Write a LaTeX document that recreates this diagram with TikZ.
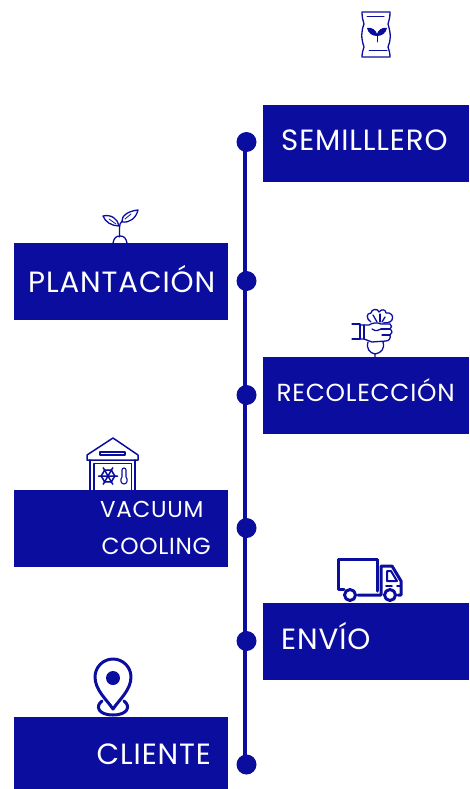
\documentclass[tikz,border=0pt]{standalone}
\usepackage{fontspec}
\setmainfont{Poppins}[LetterSpace=3]
\definecolor{navy}{HTML}{0A0D9E}
\tikzset{
  stepbox/.style={fill=navy, draw=none, inner sep=0pt, minimum height=77pt, anchor=north west},
  steptext/.style={text=white, inner sep=0pt, anchor=base west, font=\fontsize{#1}{#1}\selectfont},
  stepdot/.style={circle, fill=navy, draw=none, minimum size=20pt, inner sep=0pt},
  spine/.style={draw=navy, line width=4pt},
  icon/.style={draw=navy, line width=1.3pt, line join=round, line cap=round},
  iconthick/.style={draw=navy, line width=3pt, line join=round, line cap=round},
}
\begin{document}
\begin{tikzpicture}[x=1pt,y=-1pt]
    \useasboundingbox (0,0) rectangle (469,789);
    % boxes
    \node [stepbox, minimum width=206pt] (B1) at (263,105) {};
    \node [stepbox, minimum width=214pt] (B2) at (14,243) {};
    \node [stepbox, minimum width=206pt] (B3) at (263,357) {};
    \node [stepbox, minimum width=214pt] (B4) at (14,490) {};
    \node [stepbox, minimum width=206pt] (B5) at (263,603) {};
    \node [stepbox, minimum width=214pt, minimum height=72pt] (B6) at (14,717) {};
    % labels
    \node [steptext=29.3] (T1) at (281,150) {SEMILLLERO};
    \node [steptext=29.3] (T2) at (28,292) {PLANTACIÓN};
    \node [steptext=24.7] (T3) at (276.5,401) {RECOLECCIÓN};
    \node [steptext=23] (T4a) at (100,517) {VACUUM};
    \node [steptext=23.3] (T4b) at (101.5,554) {COOLING};
    \node [steptext=29.3] (T5) at (281,649) {ENVÍO};
    \node [steptext=29.3] (T6) at (96.5,764) {CLIENTE};
    % dots
    \node [stepdot] (D1) at (246.5,142) {};
    \node [stepdot] (D2) at (246.5,281) {};
    \node [stepdot] (D3) at (246.5,395) {};
    \node [stepdot] (D4) at (246.5,528) {};
    \node [stepdot] (D5) at (246.5,641) {};
    \node [stepdot] (D6) at (246.5,764.5) {};
    \path ([xshift=-1.5pt]D1.center) edge [spine] ([xshift=-1.5pt]D2.center);
    \path ([xshift=-1.5pt]D2.center) edge [spine] ([xshift=-1.5pt]D3.center);
    \path ([xshift=-1.5pt]D3.center) edge [spine] ([xshift=-1.5pt]D4.center);
    \path ([xshift=-1.5pt]D4.center) edge [spine] ([xshift=-1.5pt]D5.center);
    \path ([xshift=-1.5pt]D5.center) edge [spine] ([xshift=-1.5pt]D6.center);
    % seed bag
    \draw [icon] (362,12) -- (390,12) .. controls (390,18) and (389,20) .. (388,24) .. controls (391,34) and (391,40) .. (388,47) .. controls (389,50) and (390,53) .. (390,57) -- (362,57) .. controls (362,53) and (363,50) .. (364,47) .. controls (361,38) and (361,32) .. (364,24) .. controls (363,20) and (362,18) .. (362,12) -- cycle;
    \draw [icon, line width=1pt] (367,17) -- (384,17);
    \draw [icon, line width=1pt] (369,51) -- (387,51);
    \draw [icon, line width=1pt] (377,35) -- (377,42);
    \fill [navy] (377,36) .. controls (372,36) and (368,33) .. (367,28) .. controls (372,27) and (376,30) .. (377,34) .. controls (378,30) and (382,27) .. (387,28) .. controls (386,33) and (382,36) .. (377,36) -- cycle;
    % sprout
    \draw [icon] (119.5,237) -- (119.5,228) .. controls (119.5,225) and (120,223) .. (122,221);
    \draw [icon] (119,226) .. controls (112,226) and (105,222) .. (103,216) .. controls (111,214) and (118,219) .. (119,226) -- cycle;
    \draw [icon] (122,222) .. controls (121,216) and (128,211) .. (138,210) .. controls (136,218) and (130,223) .. (122,222) -- cycle;
    \draw [icon, line width=.8pt] (109,219) -- (116,224);
    \draw [icon, line width=.8pt] (125,219) -- (131,214);
    \draw [icon] (113,243) .. controls (114,238) and (116,236) .. (120,236) .. controls (124,236) and (126,238) .. (127,243);
    % hand with beet
    \draw [icon] (352,324) -- (360,324) -- (360,339) -- (352,339);
    \draw [icon] (364,325) -- (364,339);
    \draw [icon] (360,325) -- (369,325) .. controls (372,323) and (377,322) .. (381,324) -- (390,324) .. controls (392,325) and (392,328) .. (390,329) .. controls (393,331) and (392,334) .. (390,335) .. controls (391,338) and (389,341) .. (386,341) -- (372,342) -- (364,339) -- (360,339);
    \draw [icon] (381,329) -- (390,329);
    \draw [icon] (382,335) -- (390,335);
    \draw [icon] (372,329) .. controls (376,332) and (379,330) .. (381,329);
    \draw [icon] (371,322) .. controls (366,319) and (366,313) .. (371,313) .. controls (371,309) and (378,308) .. (379,312) .. controls (382,308) and (386,310) .. (386,313) .. controls (391,312) and (394,316) .. (392,320) .. controls (390,323) and (386,323) .. (383,323);
    \draw [icon] (373,315) -- (377,322);
    \draw [icon] (380,314) -- (380,322);
    \draw [icon] (385,317) -- (382,322);
    \draw [icon] (368,342) .. controls (366,349) and (370,353) .. (375,354) -- (375,357) (383,342) .. controls (385,349) and (381,353) .. (375,354);
    % cold store
    \draw [icon, line width=1.5pt] (113,438) -- (138,455) -- (138,460) -- (87,460) -- (87,455) -- cycle;
    \draw [icon, line width=1.5pt] (100,452) -- (125,452) -- (125,455) -- (100,455) -- cycle;
    \draw [icon, line width=1.5pt] (90,460) -- (90,490);
    \draw [icon, line width=1.5pt] (135,460) -- (135,490);
    \draw [icon, line width=1.5pt] (94,490) -- (94,463.5) -- (131.5,463.5) -- (131.5,490);
    \foreach \a in {0,60,...,300} {
      \draw [icon, line width=1.5pt, shift={(108,476)}, rotate=\a] (0,0) -- (9.5,0) (5,-3) -- (7,0) -- (5,3);
    }
    \draw [icon, line width=1.1pt] (122,477) -- (122,470) arc (180:360:2) -- (126,477) .. controls (128,479) and (127.5,484) .. (124,484) .. controls (120.5,484) and (120,479) .. (122,477) -- cycle;
    % truck
    \draw [iconthick] (344,589) -- (338,589) -- (338,559) -- (377,559) -- (377,591);
    \draw [iconthick] (358,595) -- (381,595) -- (381,566) -- (392,566) -- (401,581) -- (401,595) -- (398,595);
    \draw [icon, line width=2pt] (387,571) -- (391,571) -- (397,581) -- (387,581) -- cycle;
    \draw [icon, line width=1.6pt] (386,586) -- (392,586);
    \draw [icon, line width=1.6pt] (397,586) -- (400,586);
    \draw [iconthick] (350,595) circle (5.5);
    \draw [iconthick] (390,595) circle (5.5);
    % pin
    \draw [iconthick] (113,709) .. controls (107,700) and (95,690) .. (95,677) arc (180:360:18) .. controls (131,690) and (119,700) .. (113,709) -- cycle;
    \fill [navy] (113,678) circle (7);
    \draw [iconthick] (102,701) .. controls (95,706) and (98,715) .. (113,715) .. controls (128,715) and (131,706) .. (124,701);
\end{tikzpicture}
\end{document}
